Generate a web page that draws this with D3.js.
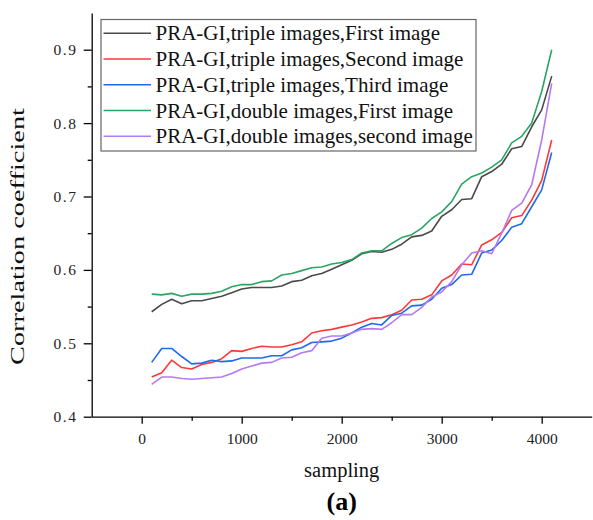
<!DOCTYPE html>
<html><head><meta charset="utf-8">
<script src="https://cdn.jsdelivr.net/npm/d3@7"></script>
<style>body{margin:0;background:#fff}svg{display:block}</style>
</head><body>
<svg id="c" width="593" height="520"></svg>
<script>
const samplingX = d3.range(100, 4101, 100);
const seriesNames = [
  "PRA-GI,triple images,First image",
  "PRA-GI,triple images,Second image",
  "PRA-GI,triple images,Third image",
  "PRA-GI,double images,First image",
  "PRA-GI,double images,second image"
];
const tripleFirst = [0.543,0.553,0.560,0.554,0.558,0.558,0.561,0.564,0.569,0.574,0.576,0.576,0.576,0.578,0.584,
  0.586,0.592,0.595,0.601,0.607,0.613,0.622,0.625,0.624,0.628,0.635,0.645,0.647,0.653,0.673,
  0.682,0.696,0.697,0.727,0.734,0.744,0.765,0.768,0.795,0.818,0.864];
const tripleSecond = [0.454,0.460,0.477,0.467,0.465,0.471,0.474,0.479,0.490,0.489,0.493,0.496,0.495,0.495,0.498,
  0.502,0.514,0.517,0.519,0.522,0.525,0.529,0.534,0.535,0.539,0.545,0.559,0.560,0.566,0.585,
  0.593,0.608,0.607,0.634,0.641,0.651,0.671,0.674,0.695,0.722,0.777];
const tripleThird = [0.474,0.493,0.493,0.482,0.472,0.473,0.477,0.475,0.476,0.480,0.480,0.480,0.483,0.483,0.491,
  0.494,0.501,0.502,0.503,0.507,0.514,0.522,0.527,0.525,0.538,0.541,0.551,0.552,0.560,0.575,
  0.580,0.593,0.594,0.623,0.627,0.640,0.658,0.663,0.686,0.709,0.760];
const doubleFirst = [0.567,0.566,0.568,0.564,0.567,0.567,0.568,0.571,0.577,0.580,0.580,0.584,0.585,0.593,0.595,
  0.599,0.603,0.604,0.608,0.610,0.614,0.623,0.626,0.626,0.636,0.644,0.648,0.657,0.670,0.679,
  0.693,0.717,0.727,0.732,0.740,0.750,0.773,0.782,0.800,0.843,0.900];
const doubleSecond = [0.444,0.454,0.454,0.452,0.451,0.452,0.453,0.454,0.459,0.465,0.469,0.473,0.474,0.480,0.481,
  0.487,0.490,0.507,0.510,0.510,0.514,0.519,0.520,0.519,0.528,0.539,0.539,0.549,0.563,0.570,
  0.584,0.607,0.623,0.626,0.622,0.650,0.681,0.691,0.716,0.777,0.854];
const seriesValues = [tripleFirst, tripleSecond, tripleThird, doubleFirst, doubleSecond];
const seriesColors = ["#4a4a4a", "#fa3a3a", "#1f6ae8", "#2ba563", "#b57af2"];
const xMajorTicks = [0, 1000, 2000, 3000, 4000];
const xMinorTicks = [500, 1500, 2500, 3500];
const yMajorTicks = [0.4, 0.5, 0.6, 0.7, 0.8, 0.9];
const yMinorTicks = [0.45, 0.55, 0.65, 0.75, 0.85];

const svg = d3.select("#c");
const x = d3.scaleLinear().domain([-500, 4500]).range([91.7, 591.7]);
const y = d3.scaleLinear().domain([0.4, 0.95]).range([416.7, 13]);
const serif = "'Liberation Serif','Times New Roman',serif";

// axes
const gx = svg.append("g").attr("transform", "translate(0,416.7)");
gx.call(d3.axisBottom(x).tickValues(xMajorTicks).tickSize(7).tickSizeOuter(0).tickPadding(9).tickFormat(d3.format("d")));
svg.append("g").attr("transform", "translate(0,416.7)")
  .call(d3.axisBottom(x).tickValues(xMinorTicks).tickSize(4).tickSizeOuter(0).tickFormat(""))
  .select(".domain").remove();
const gy = svg.append("g").attr("transform", "translate(91.7,0)");
gy.call(d3.axisLeft(y).tickValues(yMajorTicks).tickSize(8).tickSizeOuter(0).tickPadding(6).tickFormat(d3.format(".1f")));
svg.append("g").attr("transform", "translate(91.7,0)")
  .call(d3.axisLeft(y).tickValues(yMinorTicks).tickSize(4).tickSizeOuter(0).tickFormat(""))
  .select(".domain").remove();
svg.selectAll(".domain, .tick line").attr("stroke", "#000").attr("stroke-width", 1.3);
gx.selectAll("text").attr("font-family", serif).attr("font-size", 15.5).attr("fill", "#222");
gy.selectAll("text").attr("font-family", serif).attr("font-size", 15.5).attr("fill", "#222")
  .attr("letter-spacing", "1.6px");

// lines
const line = d3.line().x((d, i) => x(samplingX[i])).y(d => y(d));
seriesValues.forEach((vals, k) => {
  svg.append("path").datum(vals).attr("d", line)
    .attr("fill", "none").attr("stroke", seriesColors[k]).attr("stroke-width", 1.6)
    .attr("stroke-linejoin", "round");
});

// legend
const lg = svg.append("g");
lg.append("rect").attr("x", 101).attr("y", 19.5).attr("width", 375).attr("height", 131.5)
  .attr("fill", "#fff").attr("stroke", "#666").attr("stroke-width", 1.2);
seriesNames.forEach((name, k) => {
  const ry = 33.3 + k * 25.75;
  lg.append("line").attr("x1", 103.5).attr("x2", 151).attr("y1", ry).attr("y2", ry)
    .attr("stroke", seriesColors[k]).attr("stroke-width", 1.6);
  lg.append("text").attr("x", 155.5).attr("y", ry + 7).text(name)
    .attr("font-family", serif).attr("font-size", 21).attr("fill", "#111");
});

// axis titles
svg.append("text").attr("transform", "translate(24,236.5) rotate(-90)")
  .attr("text-anchor", "middle").attr("font-family", serif).attr("font-size", 19.5)
  .attr("textLength", 257).attr("lengthAdjust", "spacingAndGlyphs")
  .attr("fill", "#111").text("Correlation coefficient");
svg.append("text").attr("x", 341.7).attr("y", 477).attr("text-anchor", "middle")
  .attr("font-family", serif).attr("font-size", 20.5).attr("fill", "#111").text("sampling");
svg.append("text").attr("x", 341.7).attr("y", 510).attr("text-anchor", "middle")
  .attr("font-family", serif).attr("font-size", 26).attr("font-weight", "bold").attr("fill", "#000").text("(a)");
</script>
</body></html>
